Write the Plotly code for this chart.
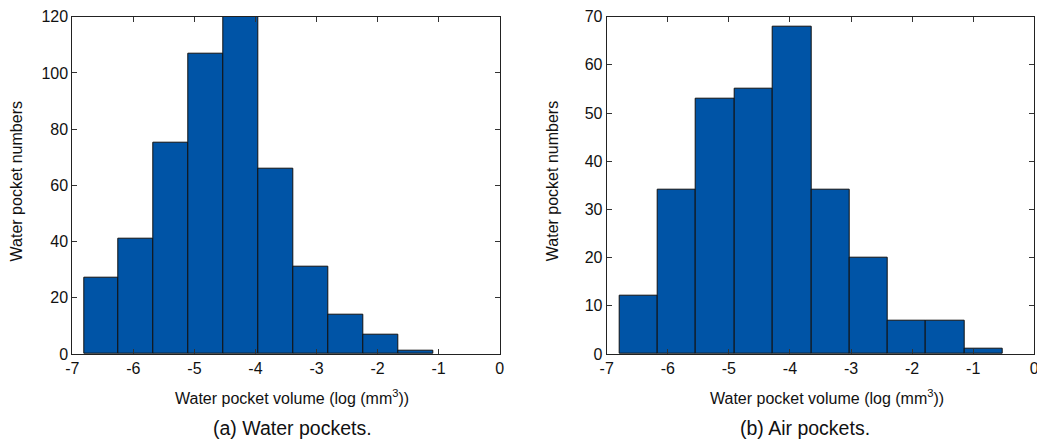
import plotly.graph_objects as go

# ---- data ----
water_edges = [-6.81, -6.24, -5.67, -5.10, -4.52, -3.95, -3.38, -2.80, -2.23, -1.66, -1.09]
water_counts = [27, 41, 75, 107, 120, 66, 31, 14, 7, 1]
air_edges = [-6.79, -6.17, -5.54, -4.91, -4.28, -3.65, -3.03, -2.40, -1.77, -1.14, -0.52]
air_counts = [12, 34, 53, 55, 68, 34, 20, 7, 7, 1]
x_ticks = [-7, -6, -5, -4, -3, -2, -1, 0]
x_ticktext = ["-7", "-6", "-5", "-4", "-3", "-2", "-1", "0"]
water_yticks = [0, 20, 40, 60, 80, 100, 120]
air_yticks = [0, 10, 20, 30, 40, 50, 60, 70]
x_title = "Water pocket volume (log (mm<sup>3</sup>))"
y_title = "Water pocket numbers"
captions = ["(a) Water pockets.", "(b) Air pockets."]

W, H = 1037, 441
FONT = "Liberation Sans, Arial, sans-serif"
BAR = "#0054A6"
TXT = "#111111"


def centers(edges):
    return [(a + b) / 2 for a, b in zip(edges[:-1], edges[1:])]


def widths(edges):
    return [b - a for a, b in zip(edges[:-1], edges[1:])]


fig = go.Figure()
fig.add_trace(go.Bar(x=centers(water_edges), y=water_counts, width=widths(water_edges),
                     marker=dict(color=BAR, line=dict(color="#111111", width=1)),
                     xaxis="x", yaxis="y", showlegend=False))
fig.add_trace(go.Bar(x=centers(air_edges), y=air_counts, width=widths(air_edges),
                     marker=dict(color=BAR, line=dict(color="#111111", width=1)),
                     xaxis="x2", yaxis="y2", showlegend=False))

ydom = [(H - 354) / H, (H - 16.7) / H]
left_dom = [72.3 / W, 499.7 / W]
right_dom = [606.7 / W, 1034.3 / W]

axis_common = dict(showline=True, linecolor="#222222", linewidth=1, mirror="ticks",
                   ticks="inside", ticklen=5, tickcolor="#333333", showgrid=False,
                   zeroline=False, automargin=False, ticklabeloverflow="allow",
                   tickfont=dict(family=FONT, size=16, color=TXT))

fig.update_layout(
    width=W, height=H, margin=dict(l=0, r=0, t=0, b=0),
    paper_bgcolor="white", plot_bgcolor="white", bargap=0,
    font=dict(family=FONT, color=TXT),
    xaxis=dict(domain=left_dom, anchor="y", range=[-7, 0], tickvals=x_ticks,
               ticktext=x_ticktext, **axis_common),
    yaxis=dict(domain=ydom, anchor="x", range=[0, 120], tickvals=water_yticks, **axis_common),
    xaxis2=dict(domain=right_dom, anchor="y2", range=[-7, 0], tickvals=x_ticks,
                ticktext=x_ticktext, **axis_common),
    yaxis2=dict(domain=ydom, anchor="x2", range=[0, 70], tickvals=air_yticks, **axis_common),
)

ann = []
for xt in [291.5, 826.5]:
    ann.append(dict(x=xt / W, y=(H - 397) / H, xref="paper", yref="paper", text=x_title,
                    showarrow=False, xanchor="center", yanchor="middle",
                    font=dict(family=FONT, size=16, color=TXT)))
for i, (yx, cx) in enumerate([(16.7, 292), (552.5, 805)]):
    ann.append(dict(x=yx / W, y=(H - 181.7) / H, xref="paper", yref="paper", text=y_title,
                    showarrow=False, textangle=-90, xanchor="center", yanchor="middle",
                    font=dict(family=FONT, size=16, color=TXT)))
    ann.append(dict(x=cx / W, y=(H - 428) / H, xref="paper", yref="paper", text=captions[i],
                    showarrow=False, xanchor="center", yanchor="middle",
                    font=dict(family=FONT, size=19.5, color=TXT)))
fig.update_layout(annotations=ann)

fig.write_html("out.html")
